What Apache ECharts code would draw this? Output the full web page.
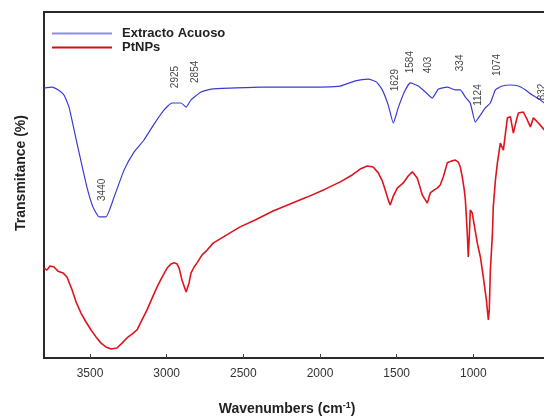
<!DOCTYPE html>
<html><head><meta charset="utf-8">
<script src="https://cdn.jsdelivr.net/npm/echarts@6/dist/echarts.min.js"></script>
<style>html,body{margin:0;padding:0;background:#fff}#c{width:544px;height:417px}</style>
</head><body><div id="c"></div>
<script>
// Wavenumber (cm-1) and transmittance (arbitrary %)
const extractoWn = [3800,3748,3709,3670,3637,3585,3520,3480,3441,3396,3343,3278,3213,3148,3082,3017,2965,2906,2873,2841,2776,2710,2586,2390,2129,1868,1770,1685,1633,1594,1555,1522,1490,1450,1411,1359,1313,1268,1229,1170,1118,1085,1052,1020,987,954,922,889,856,811,758,706,661,615,563,511];
const extractoT  = [78.0,78.3,77.5,76.0,72.5,62.1,49.4,43.6,40.8,40.8,46.5,54.3,59.5,63.0,67.6,71.7,73.7,73.7,72.5,74.6,76.9,77.7,78.0,78.3,78.3,78.6,80.1,80.6,79.8,77.5,73.1,67.9,72.3,76.9,79.5,78.6,76.9,75.1,77.7,78.3,77.5,77.5,75.4,73.7,68.2,70.2,72.3,73.7,77.5,78.6,78.9,78.6,77.5,76.0,74.6,72.8];

const ptnpsWn = [3800,3781,3761,3735,3709,3676,3650,3617,3591,3559,3526,3493,3461,3428,3396,3363,3324,3291,3259,3226,3193,3161,3128,3095,3063,3030,2997,2971,2952,2932,2919,2900,2873,2854,2841,2821,2802,2769,2736,2697,2619,2521,2423,2306,2195,2084,1966,1868,1790,1738,1692,1653,1620,1594,1575,1555,1542,1522,1496,1457,1425,1398,1366,1346,1333,1313,1300,1281,1255,1235,1216,1196,1170,1144,1118,1098,1085,1072,1059,1052,1046,1039,1033,1026,1020,1007,994,974,954,935,915,902,896,889,876,870,856,843,824,804,778,758,739,719,706,674,648,628,608,582,563,537,511];
const ptnpsT  = [26.0,25.4,26.6,26.3,25.1,24.6,23.4,19.7,16.2,13.0,10.4,8.1,6.1,4.3,3.2,2.6,2.9,4.3,5.8,6.9,8.1,11.0,13.9,17.3,20.5,23.4,26.0,27.2,27.5,27.2,26.0,22.5,19.1,21.7,24.6,26.3,27.5,29.8,31.2,33.2,35.3,37.9,39.9,42.5,44.5,46.5,48.8,50.9,52.9,54.6,55.5,55.2,53.5,51.2,48.6,45.7,44.2,46.8,49.1,50.6,52.6,53.8,52.0,49.1,47.1,45.7,44.8,47.7,48.6,49.1,50.0,52.3,56.4,56.9,57.2,56.6,55.2,52.3,48.6,45.7,41.3,35.5,29.2,35.5,42.8,41.9,38.4,33.2,29.2,23.4,16.8,11.0,13.9,25.4,35.5,43.6,51.4,56.4,62.1,60.1,69.4,69.7,65.0,68.8,70.8,71.1,68.8,66.8,69.4,68.2,67.3,65.9,64.7];

// Peak annotations: text, anchor wavenumber, anchor transmittance
const peakText = ['3440','2925','2854','1629','1584','403','334','1124','1074','832'];
const peakWn   = [3422,2945,2815,1509,1411,1294,1085,967,843,550];
const peakT    = [48.6,81.2,82.7,80.3,85.5,84.7,85.3,76.0,84.7,76.9];

const seriesNames = ['Extracto Acuoso','PtNPs'];
const xTickValues = [3500,3000,2500,2000,1500,1000];

const zip = (a,b) => a.map((v,i)=>[v,b[i]]);
const chart = echarts.init(document.getElementById('c'), null, {renderer:'canvas'});
const font = 'Liberation Sans, Arial, sans-serif';
chart.setOption({
  animation:false,
  backgroundColor:'#fff',
  grid:{left:44, top:12, right:-6, bottom:59, outerBoundsMode:'none', containLabel:false,
    show:true, borderColor:'#2a2a2a', borderWidth:2, backgroundColor:'transparent'},
  legend:{
    orient:'vertical', left:47, top:22, itemWidth:60, itemHeight:2, itemGap:1, icon:'rect',
    textStyle:{fontFamily:font, fontSize:13, lineHeight:12, fontWeight:'bold', color:'#222', padding:[0,0,0,5]},
    data:seriesNames
  },
  xAxis:{
    type:'value', inverse:true, min:500, max:3800, interval:500,
    axisLine:{show:true, lineStyle:{color:'#2a2a2a', width:2}},
    axisTick:{show:true, inside:true, length:4, lineStyle:{color:'#444'}},
    axisLabel:{fontFamily:font, fontSize:12, color:'#333', margin:10, showMaxLabel:false, showMinLabel:false,
      formatter: v => xTickValues.includes(v) ? String(v) : ''},
    splitLine:{show:false},
    name:'Wavenumbers (cm{sup|-1})', nameLocation:'middle', nameGap:43,
    nameTextStyle:{fontFamily:font, fontSize:14, fontWeight:'bold', color:'#222', padding:[0,20,0,0],
      rich:{sup:{fontSize:9, fontWeight:'bold', verticalAlign:'top', padding:[0,0,7,0], color:'#222'}}}
  },
  yAxis:{
    type:'value', min:0, max:100,
    axisLine:{show:true, lineStyle:{color:'#2a2a2a', width:2}},
    axisTick:{show:false}, axisLabel:{show:false}, splitLine:{show:false},
    name:'Transmitance (%)', nameLocation:'middle', nameGap:16,
    nameTextStyle:{fontFamily:font, fontSize:14, fontWeight:'bold', color:'#222', padding:[0,0,0,24]}
  },
  series:[
    {name:seriesNames[0], type:'line', data:zip(extractoWn, extractoT), showSymbol:false, smooth:0.15,
      lineStyle:{color:'#3b3bd4', width:1.2}, itemStyle:{color:'#8e8ee8'}, z:3},
    {name:seriesNames[1], type:'line', data:zip(ptnpsWn, ptnpsT), showSymbol:false, smooth:false,
      lineStyle:{color:'#e0141c', width:1.6}, itemStyle:{color:'#d01018'}, z:2},
    {type:'scatter', data:peakWn.map((w,i)=>({value:[w,peakT[i]], name:peakText[i]})), symbolSize:0,
      silent:true, z:5,
      label:{show:true, position:'inside', rotate:90, formatter:p=>p.name,
        fontFamily:font, fontSize:10, color:'#111'}}
  ]
});
</script></body></html>
